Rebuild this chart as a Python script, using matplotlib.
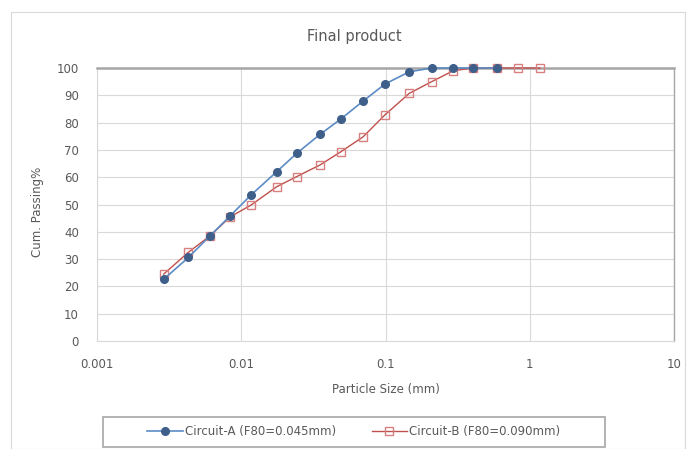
import matplotlib
matplotlib.use("Agg")
import matplotlib.pyplot as plt
from matplotlib.patches import Rectangle

# ---- data ----
size_a = [0.0029, 0.0043, 0.0061, 0.0084, 0.0117, 0.0176, 0.0242, 0.0352,
          0.049, 0.070, 0.099, 0.146, 0.209, 0.295, 0.406, 0.59]
passing_a = [22.6, 30.6, 38.6, 45.9, 53.5, 62.0, 68.7, 75.7,
             81.3, 87.9, 94.1, 98.6, 100, 100, 100, 100]
size_b = [0.0029, 0.0043, 0.0061, 0.0084, 0.0117, 0.0176, 0.0242, 0.0352,
          0.049, 0.070, 0.099, 0.146, 0.209, 0.295, 0.406, 0.59, 0.83, 1.18]
passing_b = [24.5, 32.5, 38.6, 45.5, 49.8, 56.5, 60.2, 64.5,
             69.3, 74.8, 82.8, 90.7, 95.0, 99.0, 100, 100, 100, 100]
label_a = "Circuit-A (F80=0.045mm)"
label_b = "Circuit-B (F80=0.090mm)"
title = "Final product"
xlabel = "Particle Size (mm)"
ylabel = "Cum. Passing%"
xticks = [0.001, 0.01, 0.1, 1, 10]
xticklabels = ["0.001", "0.01", "0.1", "1", "10"]
yticks = list(range(0, 101, 10))

W, H = 687, 449
fig = plt.figure(figsize=(W / 100, H / 100), dpi=100)
plt.rcParams['font.family'] = ['DejaVu Sans']
txt = '#595959'

# chart-area border
fig.patches.append(Rectangle((11 / W, 0), (685 - 11) / W, (H - 12) / H,
                             transform=fig.transFigure, fill=False,
                             edgecolor='#D9D9D9', linewidth=0.8))
# legend frame
fig.patches.append(Rectangle((103 / W, (H - 447) / H), (605 - 103) / W, 30 / H,
                             transform=fig.transFigure, fill=False,
                             edgecolor='#A6A6A6', linewidth=1.2))

ax = fig.add_axes([97 / W, (H - 341) / H, (674 - 97) / W, (341 - 68) / H])
ax.set_xscale('log')
ax.set_xlim(0.001, 10)
ax.set_ylim(0, 100)

ax.set_xticks(xticks)
ax.set_xticklabels(xticklabels)
ax.set_yticks(yticks)
ax.minorticks_off()
ax.tick_params(axis='both', length=0, labelsize=8.5, colors=txt)
ax.tick_params(axis='x', pad=12)
ax.tick_params(axis='y', pad=13)

ax.grid(True, which='major', color='#D9D9D9', linewidth=0.8)
ax.set_axisbelow(True)
for side in ['left', 'bottom']:
    ax.spines[side].set_color('#D9D9D9')
    ax.spines[side].set_linewidth(0.8)
ax.spines['top'].set_color('#A6A6A6')
ax.spines['top'].set_linewidth(1.8)
ax.spines['right'].set_color('#A6A6A6')
ax.spines['right'].set_linewidth(1.0)

ax.plot(size_b, passing_b, color='#C0504D', linewidth=1.0, marker='s',
        markersize=6, markerfacecolor='none', markeredgecolor='#D88080',
        markeredgewidth=1.0, label=label_b, zorder=3, clip_on=False)
ax.plot(size_a, passing_a, color='#5B8BC5', linewidth=1.2, marker='o',
        markersize=5.5, markerfacecolor='#3E5F8A', markeredgecolor='#3E5F8A',
        label=label_a, zorder=4, clip_on=False)

fig.text(354 / W, (H - 37) / H, title, ha='center', va='center',
         fontsize=10.5, color=txt)
fig.text(386 / W, (H - 389) / H, xlabel, ha='center', va='center',
         fontsize=8.5, color=txt)
fig.text(38 / W, (H - 212) / H, ylabel, ha='center', va='center',
         rotation=90, fontsize=8.5, color=txt)

handles, labels = ax.get_legend_handles_labels()
leg = fig.legend(handles[::-1], labels[::-1], loc='center',
                 bbox_to_anchor=(354 / W, (H - 432) / H), ncol=2,
                 fontsize=8.5, frameon=False,
                 handlelength=3.0, columnspacing=3.0,
                 handletextpad=0.2, borderpad=0.5)
for t in leg.get_texts():
    t.set_color(txt)

fig.savefig('out.png', dpi=100)
